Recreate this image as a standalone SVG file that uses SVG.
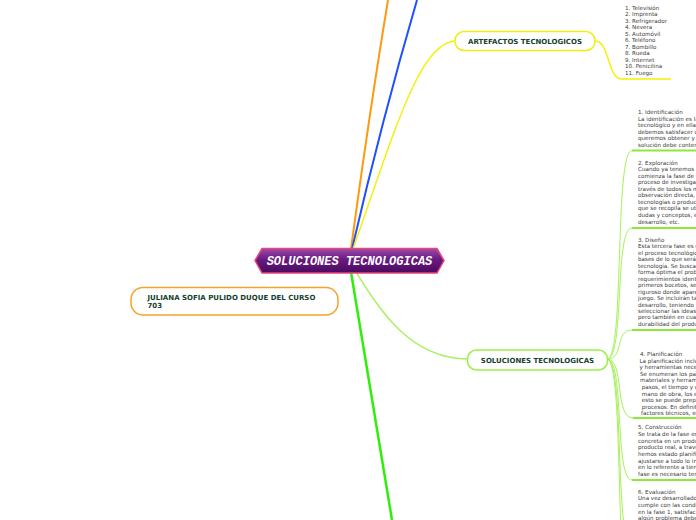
<svg xmlns="http://www.w3.org/2000/svg" width="696" height="520" viewBox="0 0 696 520">
<style>
.lbl{font-family:"DejaVu Sans",Verdana,sans-serif;font-weight:bold;font-size:7px;fill:#163f30}
.sm{font-family:"DejaVu Sans",Verdana,sans-serif;font-size:5.6px;fill:#3a3a3a}
.node{fill:#fff;stroke-width:1.5}
.sub{fill:none;stroke:#a6f25a;stroke-width:1}
.ul{fill:none;stroke:#8ee83a;stroke-width:2}
</style>
<defs>
<linearGradient id="cg" x1="0" y1="0" x2="0" y2="1">
<stop offset="0" stop-color="#9c4cab"/>
<stop offset="0.45" stop-color="#6a1a80"/>
<stop offset="1" stop-color="#4a0a5f"/>
</linearGradient>
</defs>
<rect width="696" height="520" fill="#fff"/>
<g id="connectors">
<path d="M351,249 Q369,115 388,0" fill="none" stroke="#ff9a10" stroke-width="2"/>
<path d="M352,249 Q382,120 417,0" fill="none" stroke="#1f50ff" stroke-width="2"/>
<path d="M353,249 C395,130 420,41 456,41" fill="none" stroke="#f2f200" stroke-width="1.4"/>
<path d="M351,272 L392,520" fill="none" stroke="#2eee0a" stroke-width="2.5"/>
<path d="M356,272 C380,310 410,359 468,359" fill="none" stroke="#a6f25a" stroke-width="1.4"/>
<path d="M595,41 C610,41 607,79 622,79 L671,79" fill="none" stroke="#f2f200" stroke-width="1.4"/>
<path class="sub" d="M607,359 C625,359 614,150.5 632,150.5"/>
<path class="sub" d="M607,359 C625,359 614,228 632,228"/>
<path class="sub" d="M607,359 C625,359 614,330 632,330"/>
<path class="sub" d="M607,359 C625,359 614,418 633,418"/>
<path class="sub" d="M607,359 C625,359 614,480 632,480"/>
<path class="sub" d="M607,359 C625,359 614,545 632,545"/>
<path class="sub" d="M607,359 C625,359 614,610 632,610"/>
<path class="ul" d="M632,150.5 H700"/>
<path class="ul" d="M632,228 H700"/>
<path class="ul" d="M632,330 H700"/>
<path class="ul" d="M633,418 H700"/>
<path class="ul" d="M632,480 H700"/>
</g>
<g id="central">
<path d="M255,260.5 L262,248.5 L437,248.5 L444,260.5 L437,273 L262,273 Z" fill="url(#cg)" stroke="#e8457a" stroke-width="1.5"/>
<text x="349.5" y="264.8" text-anchor="middle" font-family="'Liberation Mono','Courier New',monospace" font-weight="bold" font-style="italic" font-size="12" fill="#fff">SOLUCIONES TECNOLOGICAS</text>
</g>
<g id="artefactos">
<rect class="node" x="455" y="31.5" width="140" height="19" rx="9" stroke="#eeee10"/>
<text class="lbl" x="525" y="43.5" text-anchor="middle">ARTEFACTOS TECNOLOGICOS</text>
</g>
<g id="lista">
<text class="sm" x="625" y="9.5">1. Televisión</text>
<text class="sm" x="625" y="16">2. Imprenta</text>
<text class="sm" x="625" y="22.5">3. Refrigerador</text>
<text class="sm" x="625" y="29">4. Nevera</text>
<text class="sm" x="625" y="35.5">5. Automóvil</text>
<text class="sm" x="625" y="42">6. Teléfono</text>
<text class="sm" x="625" y="48.5">7. Bombillo</text>
<text class="sm" x="625" y="55">8. Rueda</text>
<text class="sm" x="625" y="61.5">9. Internet</text>
<text class="sm" x="625" y="68">10. Penicilina</text>
<text class="sm" x="625" y="74.5">11. Fuego</text>
</g>
<g id="soluciones">
<rect class="node" x="467.5" y="350" width="140" height="20" rx="9" stroke="#9def4a"/>
<text class="lbl" x="537.5" y="362.8" text-anchor="middle">SOLUCIONES TECNOLOGICAS</text>
</g>
<g id="juliana">
<rect class="node" x="131" y="287.5" width="207" height="27.5" rx="12" stroke="#f5a32a"/>
<text class="lbl" x="147.5" y="299.5">JULIANA SOFIA PULIDO DUQUE DEL CURSO</text>
<text class="lbl" x="147.5" y="307.8">703</text>
</g>
<g id="identificacion">
<text class="sm" x="638" y="114">1. Identificación</text>
<text class="sm" x="638" y="120.5">La identificación es la</text>
<text class="sm" x="638" y="127">tecnológico y en ella</text>
<text class="sm" x="638" y="133.6">debemos satisfacer c</text>
<text class="sm" x="638" y="140.2">queremos obtener y</text>
<text class="sm" x="638" y="146.7">solución debe conten</text>
</g>
<g id="exploracion">
<text class="sm" x="638" y="164.5">2. Exploración</text>
<text class="sm" x="638" y="171">Cuando ya tenemos i</text>
<text class="sm" x="638" y="177.6">comienza la fase de b</text>
<text class="sm" x="638" y="184.2">proceso de investigac</text>
<text class="sm" x="638" y="190.7">través de todos los m</text>
<text class="sm" x="638" y="197.3">observación directa,</text>
<text class="sm" x="638" y="203.8">tecnologías o product</text>
<text class="sm" x="638" y="210.4">que se recopila se ut</text>
<text class="sm" x="638" y="216.9">dudas y conceptos, e</text>
<text class="sm" x="638" y="223.5">desarrollo, etc.</text>
</g>
<g id="diseno">
<text class="sm" x="638" y="242">3. Diseño</text>
<text class="sm" x="638" y="248.4">Esta tercera fase es u</text>
<text class="sm" x="638" y="254.9">el proceso tecnológic</text>
<text class="sm" x="638" y="261.4">bases de lo que será</text>
<text class="sm" x="638" y="267.8">tecnología. Se buscar</text>
<text class="sm" x="638" y="274.2">forma óptima el probl</text>
<text class="sm" x="638" y="280.7">requerimientos identi</text>
<text class="sm" x="638" y="287.2">primeros bocetos, se</text>
<text class="sm" x="638" y="293.6">riguroso donde apare</text>
<text class="sm" x="638" y="300">juego. Se incluirán ta</text>
<text class="sm" x="638" y="306.5">desarrollo, teniendo</text>
<text class="sm" x="638" y="313">seleccionar las ideas</text>
<text class="sm" x="638" y="319.4">pero también en cuan</text>
<text class="sm" x="638" y="325.8">durabilidad del produ</text>
</g>
<g id="planificacion">
<text class="sm" x="640" y="356">4. Planificación</text>
<text class="sm" x="639.5" y="362.6">La planificación inclu</text>
<text class="sm" x="639.5" y="369.2">y herramientas nece</text>
<text class="sm" x="640" y="375.8">Se enumeran los pa</text>
<text class="sm" x="640" y="382.4">materiales y herram</text>
<text class="sm" x="641.8" y="389">pasos, el tiempo y c</text>
<text class="sm" x="641.8" y="395.6">mano de obra, los e</text>
<text class="sm" x="641.8" y="402.2">esto se puede prepa</text>
<text class="sm" x="641.8" y="408.8">procesos. En definiti</text>
<text class="sm" x="641" y="415.4">factores técnicos, ec</text>
</g>
<g id="construccion">
<text class="sm" x="638" y="429.3">5. Construcción</text>
<text class="sm" x="638" y="436">Se trata de la fase en</text>
<text class="sm" x="638" y="442.6">concreta en un produ</text>
<text class="sm" x="638" y="449.3">producto real, a trave</text>
<text class="sm" x="638" y="456">hemos estado planifi</text>
<text class="sm" x="638" y="462.6">ajustarse a todo lo in</text>
<text class="sm" x="638" y="469.3">en lo referente a tien</text>
<text class="sm" x="638" y="476">fase es necesario ten</text>
</g>
<g id="evaluacion">
<text class="sm" x="638" y="493.7">6. Evaluación</text>
<text class="sm" x="638" y="500.3">Una vez desarrollado</text>
<text class="sm" x="638" y="506.9">cumple con las condi</text>
<text class="sm" x="638" y="513.5">en la fase 1, satisfaci</text>
<text class="sm" x="638" y="520.1">algún problema debe</text>
</g>
</svg>
